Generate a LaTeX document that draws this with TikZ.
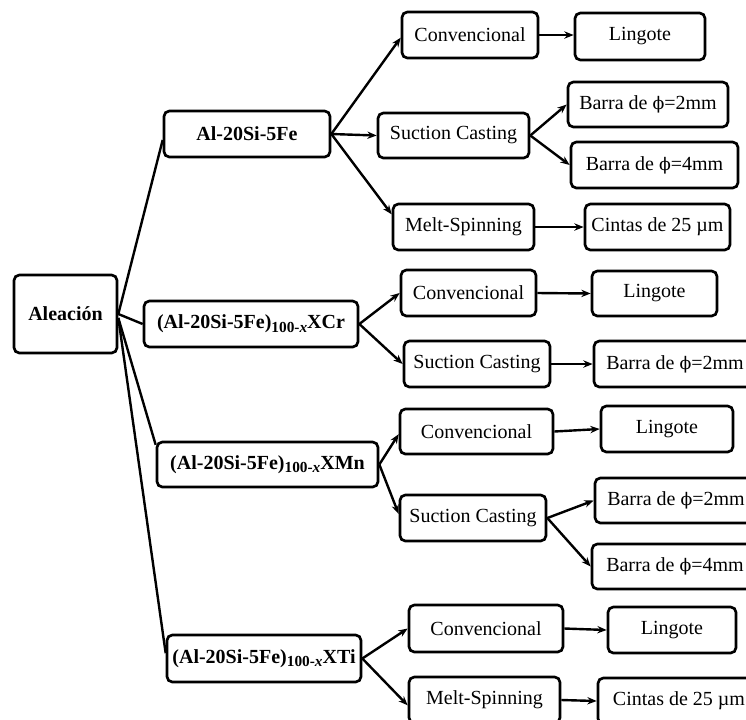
\documentclass[tikz,border=0pt]{standalone}
\usepackage{fontspec}
\setmainfont{Liberation Serif}
\newfontfamily\dvfont{DejaVu Serif}
\usetikzlibrary{arrows.meta}
\newcommand{\subx}{\raisebox{-0.35ex}{\fontsize{11.5}{12}\selectfont 100-\textit{x}}}
\newcommand{\phisym}{{\dvfont\fontsize{13}{15}\selectfont ϕ}}
\begin{document}
\begin{tikzpicture}[x=0.75pt,y=-0.75pt,
  box/.style={draw, line width=2pt, rounded corners=4pt, inner sep=0pt, align=center, font=\fontsize{15}{18}\selectfont},
  bbox/.style={box, font=\fontsize{15}{18}\selectfont\bfseries},
  arr/.style={line width=1.8pt, -{Stealth[length=7pt,width=5.5pt]}},
  ln/.style={line width=1.8pt}]
\useasboundingbox (0,0) rectangle (746,719);
% level 1
\node[bbox, minimum width=77.25pt, minimum height=58.5pt] (ale) at (65.5,314) {Aleación};
% level 2
\node[bbox, minimum width=124.5pt, minimum height=34.5pt] (al) at (247,134) {Al-20Si-5Fe};
\node[bbox, minimum width=160.5pt, minimum height=34.5pt] (cr) at (251,324) {(Al-20Si-5Fe)\subx XCr};
\node[bbox, minimum width=165.75pt, minimum height=33.75pt] (mn) at (267.5,464.5) {(Al-20Si-5Fe)\subx XMn};
\node[bbox, minimum width=145.5pt, minimum height=35.25pt] (ti) at (264,658.5) {(Al-20Si-5Fe)\subx XTi};
% branch 1
\node[box, minimum width=102pt, minimum height=34.5pt] (conv1) at (470,35) {Convencional};
\node[box, minimum width=97.5pt, minimum height=35.25pt] (ling1) at (640,36.5) {Lingote};
\node[box, minimum width=113.25pt, minimum height=33.75pt] (suc1) at (453.5,135.5) {Suction Casting};
\node[box, minimum width=120pt, minimum height=33.75pt] (b21) at (648,104.5) {Barra de \phisym=2mm};
\node[box, minimum width=125.25pt, minimum height=34.5pt] (b41) at (654.5,165) {Barra de \phisym=4mm};
\node[box, minimum width=105.75pt, minimum height=34.5pt] (melt1) at (463.5,227) {Melt-Spinning};
\node[box, minimum width=108.75pt, minimum height=34.5pt] (cin1) at (657.5,227) {Cintas de 25 µm};
% branch 2
\node[box, minimum width=101.25pt, minimum height=34.5pt] (conv2) at (468.5,293) {Convencional};
\node[box, minimum width=93.75pt, minimum height=33.75pt] (ling2) at (654.5,293.5) {Lingote};
\node[box, minimum width=109.5pt, minimum height=34.5pt] (suc2) at (477,364) {Suction Casting};
\node[box, minimum width=121.5pt, minimum height=34.5pt] (b22) at (675,364) {Barra de \phisym=2mm};
% branch 3
\node[box, minimum width=114.75pt, minimum height=33.75pt] (conv3) at (476.5,431.5) {Convencional};
\node[box, minimum width=99pt, minimum height=34.5pt] (ling3) at (667,429) {Lingote};
\node[box, minimum width=109.5pt, minimum height=34.5pt] (suc3) at (473,518) {Suction Casting};
\node[box, minimum width=121.5pt, minimum height=33.75pt] (b23) at (676,500.5) {Barra de \phisym=2mm};
\node[box, minimum width=124.5pt, minimum height=33.75pt] (b43) at (675,566.5) {Barra de \phisym=4mm};
% branch 4
\node[box, minimum width=115.5pt, minimum height=35.25pt] (conv4) at (486,628.5) {Convencional};
\node[box, minimum width=96pt, minimum height=34.5pt] (ling4) at (672,630) {Lingote};
\node[box, minimum width=113.25pt, minimum height=34.5pt] (melt4) at (484.5,700) {Melt-Spinning};
\node[box, minimum width=121.5pt, minimum height=34.5pt] (cin4) at (679,701) {Cintas de 25 µm};
% connectors from Aleacion
\draw[ln] (ale.east) -- ([yshift=-4.5pt]al.west);
\draw[ln] (ale.east) -- (cr.west);
\draw[ln] ([yshift=-3pt]ale.east) -- (mn.170);
\draw[ln] ([yshift=-3pt]ale.east) -- ([yshift=4pt]ti.west);
% branch 1
\draw[arr] (al.east) -- ([yshift=-2pt]conv1.west);
\draw[arr] (al.east) -- (suc1.west);
\draw[arr] (al.east) -- (melt1.170);
\draw[arr] (conv1.east) -- (ling1.west |- conv1.east);
\draw[arr] (suc1.east) -- (b21.west);
\draw[arr] (suc1.east) -- (b41.west);
\draw[arr] (melt1.east) -- (cin1.west);
% branch 2
\draw[arr] (cr.east) -- (conv2.west);
\draw[arr] (cr.east) -- (suc2.west);
\draw[arr] (conv2.east) -- (ling2.west);
\draw[arr] (suc2.east) -- (b22.west);
% branch 3
\draw[arr] (mn.east) -- ([yshift=-2pt]conv3.west);
\draw[arr] (mn.east) -- ([yshift=3pt]suc3.west);
\draw[arr] (conv3.east) -- (ling3.west);
\draw[arr] (suc3.east) -- (b23.west);
\draw[arr] (suc3.east) -- (b43.west);
% branch 4
\draw[arr] (ti.east) -- (conv4.west);
\draw[arr] (ti.east) -- ([yshift=-4pt]melt4.west);
\draw[arr] (conv4.east) -- (ling4.west);
\draw[arr] (melt4.east) -- (cin4.west);
\end{tikzpicture}
\end{document}
